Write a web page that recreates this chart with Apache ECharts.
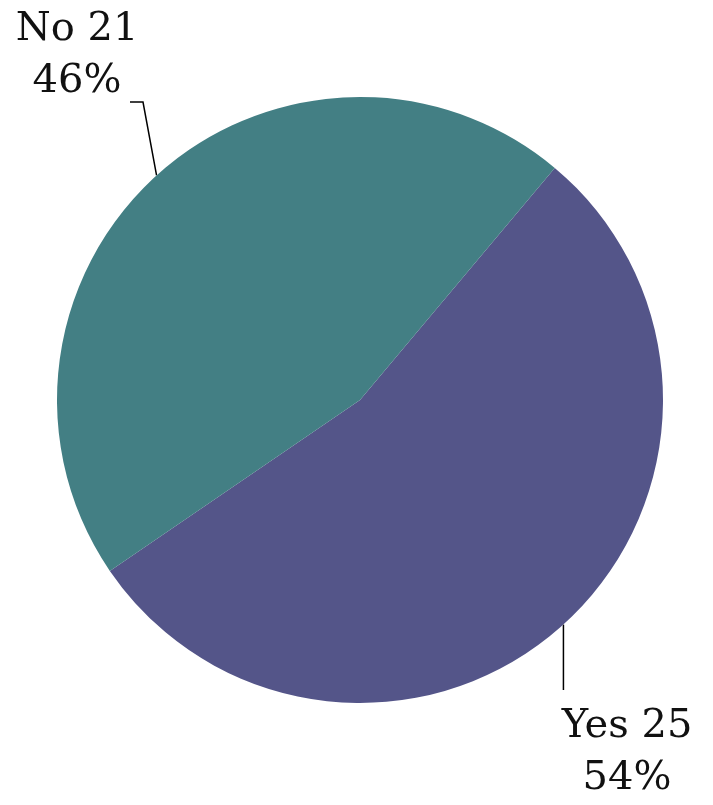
<!DOCTYPE html>
<html><head><meta charset="utf-8">
<script src="https://cdn.jsdelivr.net/npm/echarts@6/dist/echarts.min.js"></script>
<style>html,body{margin:0;padding:0;background:#fff}#c{width:713px;height:805px}</style>
</head><body><div id="c"></div>
<script>
var categories = ['Yes', 'No'];
var values = [25, 21];
var colors = ['#545589', '#437f84'];

var chart = echarts.init(document.getElementById('c'));
chart.setOption({
  animation: false,
  series: [{
    type: 'pie',
    center: [360, 400],
    radius: 303,
    startAngle: 50,
    clockwise: true,
    percentPrecision: 0,
    data: categories.map(function (c, i) { return { name: c, value: values[i], itemStyle: { color: colors[i] } }; }),
    label: {
      show: true,
      formatter: '{b} {c}\n{d}%',
      fontFamily: 'DejaVu Serif',
      fontSize: 40,
      lineHeight: 52,
      color: '#111',
      align: 'center',
      overflow: 'none',
      width: 300,
      edgeDistance: 0
    },
    labelLine: { show: true, lineStyle: { color: '#000', width: 1.5 } },
    labelLayout: function (p) {
      var s = p.labelLinePoints ? p.labelLinePoints[0] : [0, 0];
      if (p.dataIndex === 0) {
        return { x: 627, y: 701, align: 'center', verticalAlign: 'top',
          labelLinePoints: [s, [s[0], 690], [s[0], 690]] };
      } else {
        return { x: 77, y: 4, align: 'center', verticalAlign: 'top',
          labelLinePoints: [s, [143, 102], [130, 102]] };
      }
    }
  }]
});
</script></body></html>
